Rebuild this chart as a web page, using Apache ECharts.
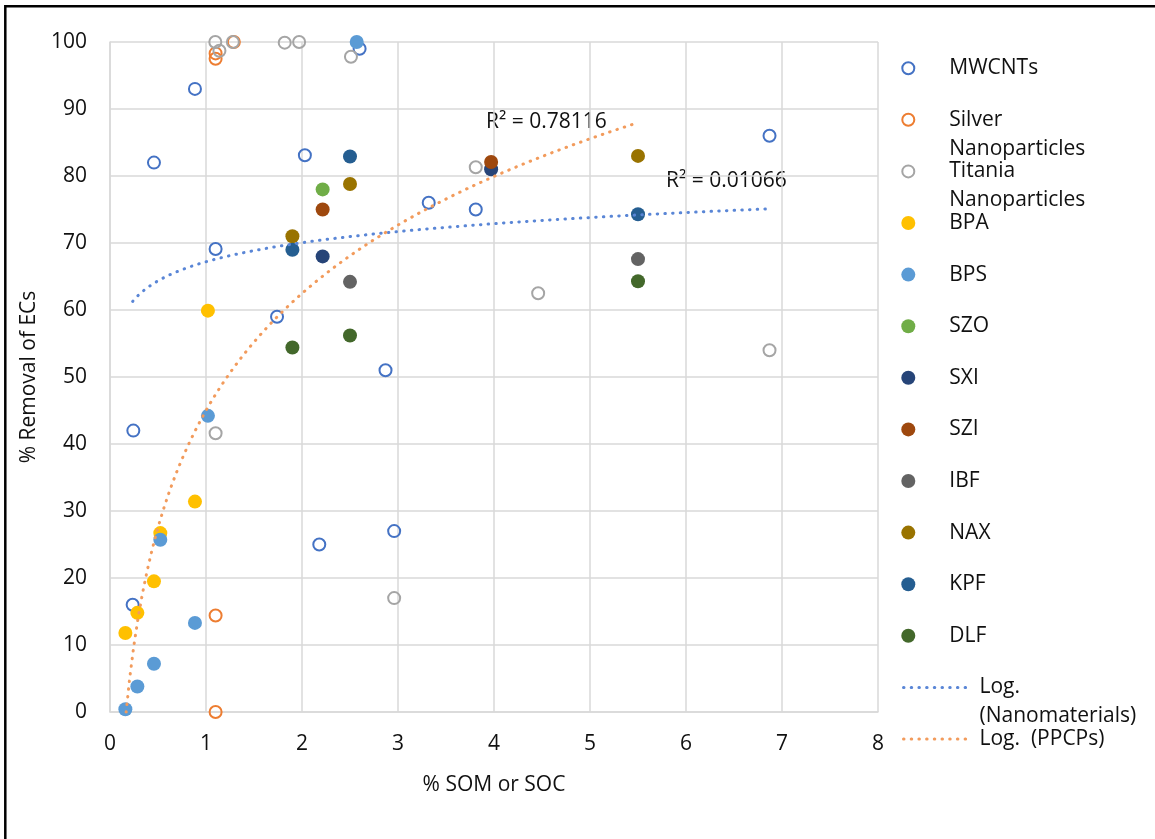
<!DOCTYPE html>
<html><head><meta charset="utf-8">
<script src="https://cdn.jsdelivr.net/npm/echarts@6/dist/echarts.min.js"></script>
<style>html,body{margin:0;padding:0;background:#fff}#c{width:1155px;height:839px}</style>
</head><body><div id="c"></div>
<script>
// ---------- data ----------
const xAxisRange = [0, 8, 1];      // min, max, step  -> ticks 0..8
const yAxisRange = [0, 100, 10];   // min, max, step  -> ticks 0..100

const mwcnts   = [[0.885,93],[0.458,82],[2.03,83.1],[2.60,99],[1.10,69.1],[1.74,59],[2.87,51],[3.32,76],[3.81,75],[6.87,86],[0.243,42],[2.18,25],[2.96,27],[0.236,16]];
const silver   = [[1.10,98.3],[1.10,97.5],[1.29,100],[1.10,14.4],[1.10,0]];
const titania  = [[1.097,100],[1.14,98.7],[1.28,100],[1.82,99.9],[1.97,100],[2.51,97.8],[3.81,81.3],[4.46,62.5],[6.87,54],[1.10,41.6],[2.96,17]];
const bpa      = [[0.16,11.8],[0.285,14.8],[0.458,19.5],[0.524,26.7],[0.885,31.4],[1.02,59.9]];
const bps      = [[0.16,0.4],[0.285,3.8],[0.458,7.2],[0.524,25.7],[0.885,13.3],[1.02,44.2],[2.57,100]];
const szo      = [[2.215,78]];
const sxi      = [[2.215,68],[3.97,81]];
const szi      = [[2.215,75],[3.97,82.1]];
const ibf      = [[2.5,64.2],[5.5,67.6]];
const nax      = [[1.9,71],[2.5,78.8],[5.5,83]];
const kpf      = [[1.9,69],[2.5,82.9],[5.5,74.3]];
const dlf      = [[1.9,54.4],[2.5,56.2],[5.5,64.3]];

// logarithmic trendlines y = a*ln(x) + b (coefficients)
const nanoTrend = {a: 4.1,  b: 67.2, xMin: 0.236, xMax: 6.87};
const ppcpTrend = {a: 25.2, b: 45.0, xMin: 0.16,  xMax: 5.5};
const r2Labels  = ['R\u00B2 = 0.78116', 'R\u00B2 = 0.01066'];

// ---------- styling ----------
const FONT = 'Open Sans';
const FS = 21;
const TXT = '#111';

const scatterDefs = [
  {name:'MWCNTs', data:mwcnts, color:'#4472C4', hollow:true, label:['MWCNTs']},
  {name:'Silver Nanoparticles', data:silver, color:'#ED7D31', hollow:true, label:['Silver','Nanoparticles']},
  {name:'Titania Nanoparticles', data:titania, color:'#A5A5A5', hollow:true, label:['Titania','Nanoparticles']},
  {name:'BPA', data:bpa, color:'#FFC000', label:['BPA']},
  {name:'BPS', data:bps, color:'#5B9BD5', label:['BPS']},
  {name:'SZO', data:szo, color:'#70AD47', label:['SZO']},
  {name:'SXI', data:sxi, color:'#264478', label:['SXI']},
  {name:'SZI', data:szi, color:'#9E480E', label:['SZI']},
  {name:'IBF', data:ibf, color:'#636363', label:['IBF']},
  {name:'NAX', data:nax, color:'#997300', label:['NAX']},
  {name:'KPF', data:kpf, color:'#255E91', label:['KPF']},
  {name:'DLF', data:dlf, color:'#43682B', label:['DLF']}
];
const trendDefs = [
  {name:'Log. (Nanomaterials)', t:nanoTrend, color:'#5a86d6', label:['Log.','(Nanomaterials)']},
  {name:'Log.  (PPCPs)', t:ppcpTrend, color:'#f29b5c', label:['Log.  (PPCPs)']}
];

function trendPoints(t){
  const pts = [], n = 120;
  for (let i = 0; i <= n; i++) {
    const x = t.xMin + (t.xMax - t.xMin) * i / n;
    pts.push([x, t.a * Math.log(x) + t.b]);
  }
  return pts;
}

const dotDash = [0.5, 7.2];
const series = [];
scatterDefs.forEach(d => {
  series.push({
    type:'scatter', name:d.name, data:d.data,
    symbol:'circle', symbolSize: d.hollow ? 12 : 14,
    itemStyle: d.hollow ? {color:'rgba(255,255,255,0)', borderColor:d.color, borderWidth:2, opacity:1}
                        : {color:d.color, borderWidth:0, opacity:1},
    emphasis:{disabled:true}
  });
});
trendDefs.forEach(d => {
  series.push({
    type:'line', name:d.name, data:trendPoints(d.t), symbol:'none', showSymbol:false,
    itemStyle:{color:d.color},
    lineStyle:{color:d.color, width:3, type:dotDash, cap:'round'},
    emphasis:{disabled:true}, clip:true, z:3
  });
});

// legends: one component per entry so spacing matches the reference
const allDefs = scatterDefs.concat(trendDefs);
const legendY0 = 68.2, legendStep = 51.6, LH = 29;
const legends = allDefs.map((d, i) => {
  const isLine = i >= scatterDefs.length;
  const y = legendY0 + legendStep * i;
  const two = d.label.length > 1;
  const outer = LH * d.label.length + (two ? LH : 0);
  const lg = {
    show:true, orient:'vertical', padding:0,
    left: isLine ? 902 : 901.3,
    top: y - outer / 2,
    itemWidth: isLine ? 64 : 72,
    itemHeight: d.hollow ? 12 : 14,
    data:[d.name],
    selectedMode:false,
    formatter: () => d.label.map(s => '{t|' + s + '}').join('\n'),
    textStyle:{
      fontFamily:FONT, fontSize:FS, color:TXT, lineHeight:LH,
      padding:[two ? LH : 0, 0, 0, isLine ? 7 : 0],
      rich:{t:{fontFamily:FONT, fontSize:FS, color:TXT, lineHeight:LH}}
    }
  };
  if (isLine) {
    lg.lineStyle = {color:d.color, width:3, type:dotDash, cap:'round'};
    lg.itemStyle = {color:'rgba(0,0,0,0)', borderColor:'rgba(0,0,0,0)', borderWidth:0};
  } else {
    lg.itemStyle = {opacity:1};
  }
  return lg;
});

const chart = echarts.init(document.getElementById('c'), null, {renderer:'canvas'});
chart.setOption({
  animation:false,
  backgroundColor:'#fff',
  grid:{left:110, top:42, right:277, bottom:127, containLabel:false},
  xAxis:{
    type:'value', min:xAxisRange[0], max:xAxisRange[1], interval:xAxisRange[2],
    name:'% SOM or SOC', nameLocation:'middle', nameGap:63,
    nameTextStyle:{fontFamily:FONT, fontSize:FS, color:TXT},
    axisLine:{show:true, lineStyle:{color:'#d9d9d9', width:1.5}},
    axisTick:{show:false},
    axisLabel:{fontFamily:FONT, fontSize:FS, color:TXT, margin:22},
    splitLine:{show:true, lineStyle:{color:'#d9d9d9', width:1.5}}
  },
  yAxis:{
    type:'value', min:yAxisRange[0], max:yAxisRange[1], interval:yAxisRange[2],
    name:'% Removal of ECs', nameLocation:'middle', nameGap:70, nameRotate:90,
    nameTextStyle:{fontFamily:FONT, fontSize:FS, color:TXT},
    axisLine:{show:true, lineStyle:{color:'#d9d9d9', width:1.5}},
    axisTick:{show:false},
    axisLabel:{fontFamily:FONT, fontSize:FS, color:TXT, margin:23},
    splitLine:{show:true, lineStyle:{color:'#d9d9d9', width:1.5}}
  },
  legend: legends,
  series: series,
  graphic:[
    {type:'text', x:486, y:122, style:{text:r2Labels[0], font:FS + 'px "' + FONT + '"', fill:TXT, verticalAlign:'middle'}},
    {type:'text', x:666, y:181, style:{text:r2Labels[1], font:FS + 'px "' + FONT + '"', fill:TXT, verticalAlign:'middle'}},
    {type:'rect', shape:{x:5.3, y:6.3, width:1300, height:1000}, style:{fill:'none', stroke:'#000', lineWidth:2.5}, z:100, silent:true}
  ]
});
</script>
</body></html>
